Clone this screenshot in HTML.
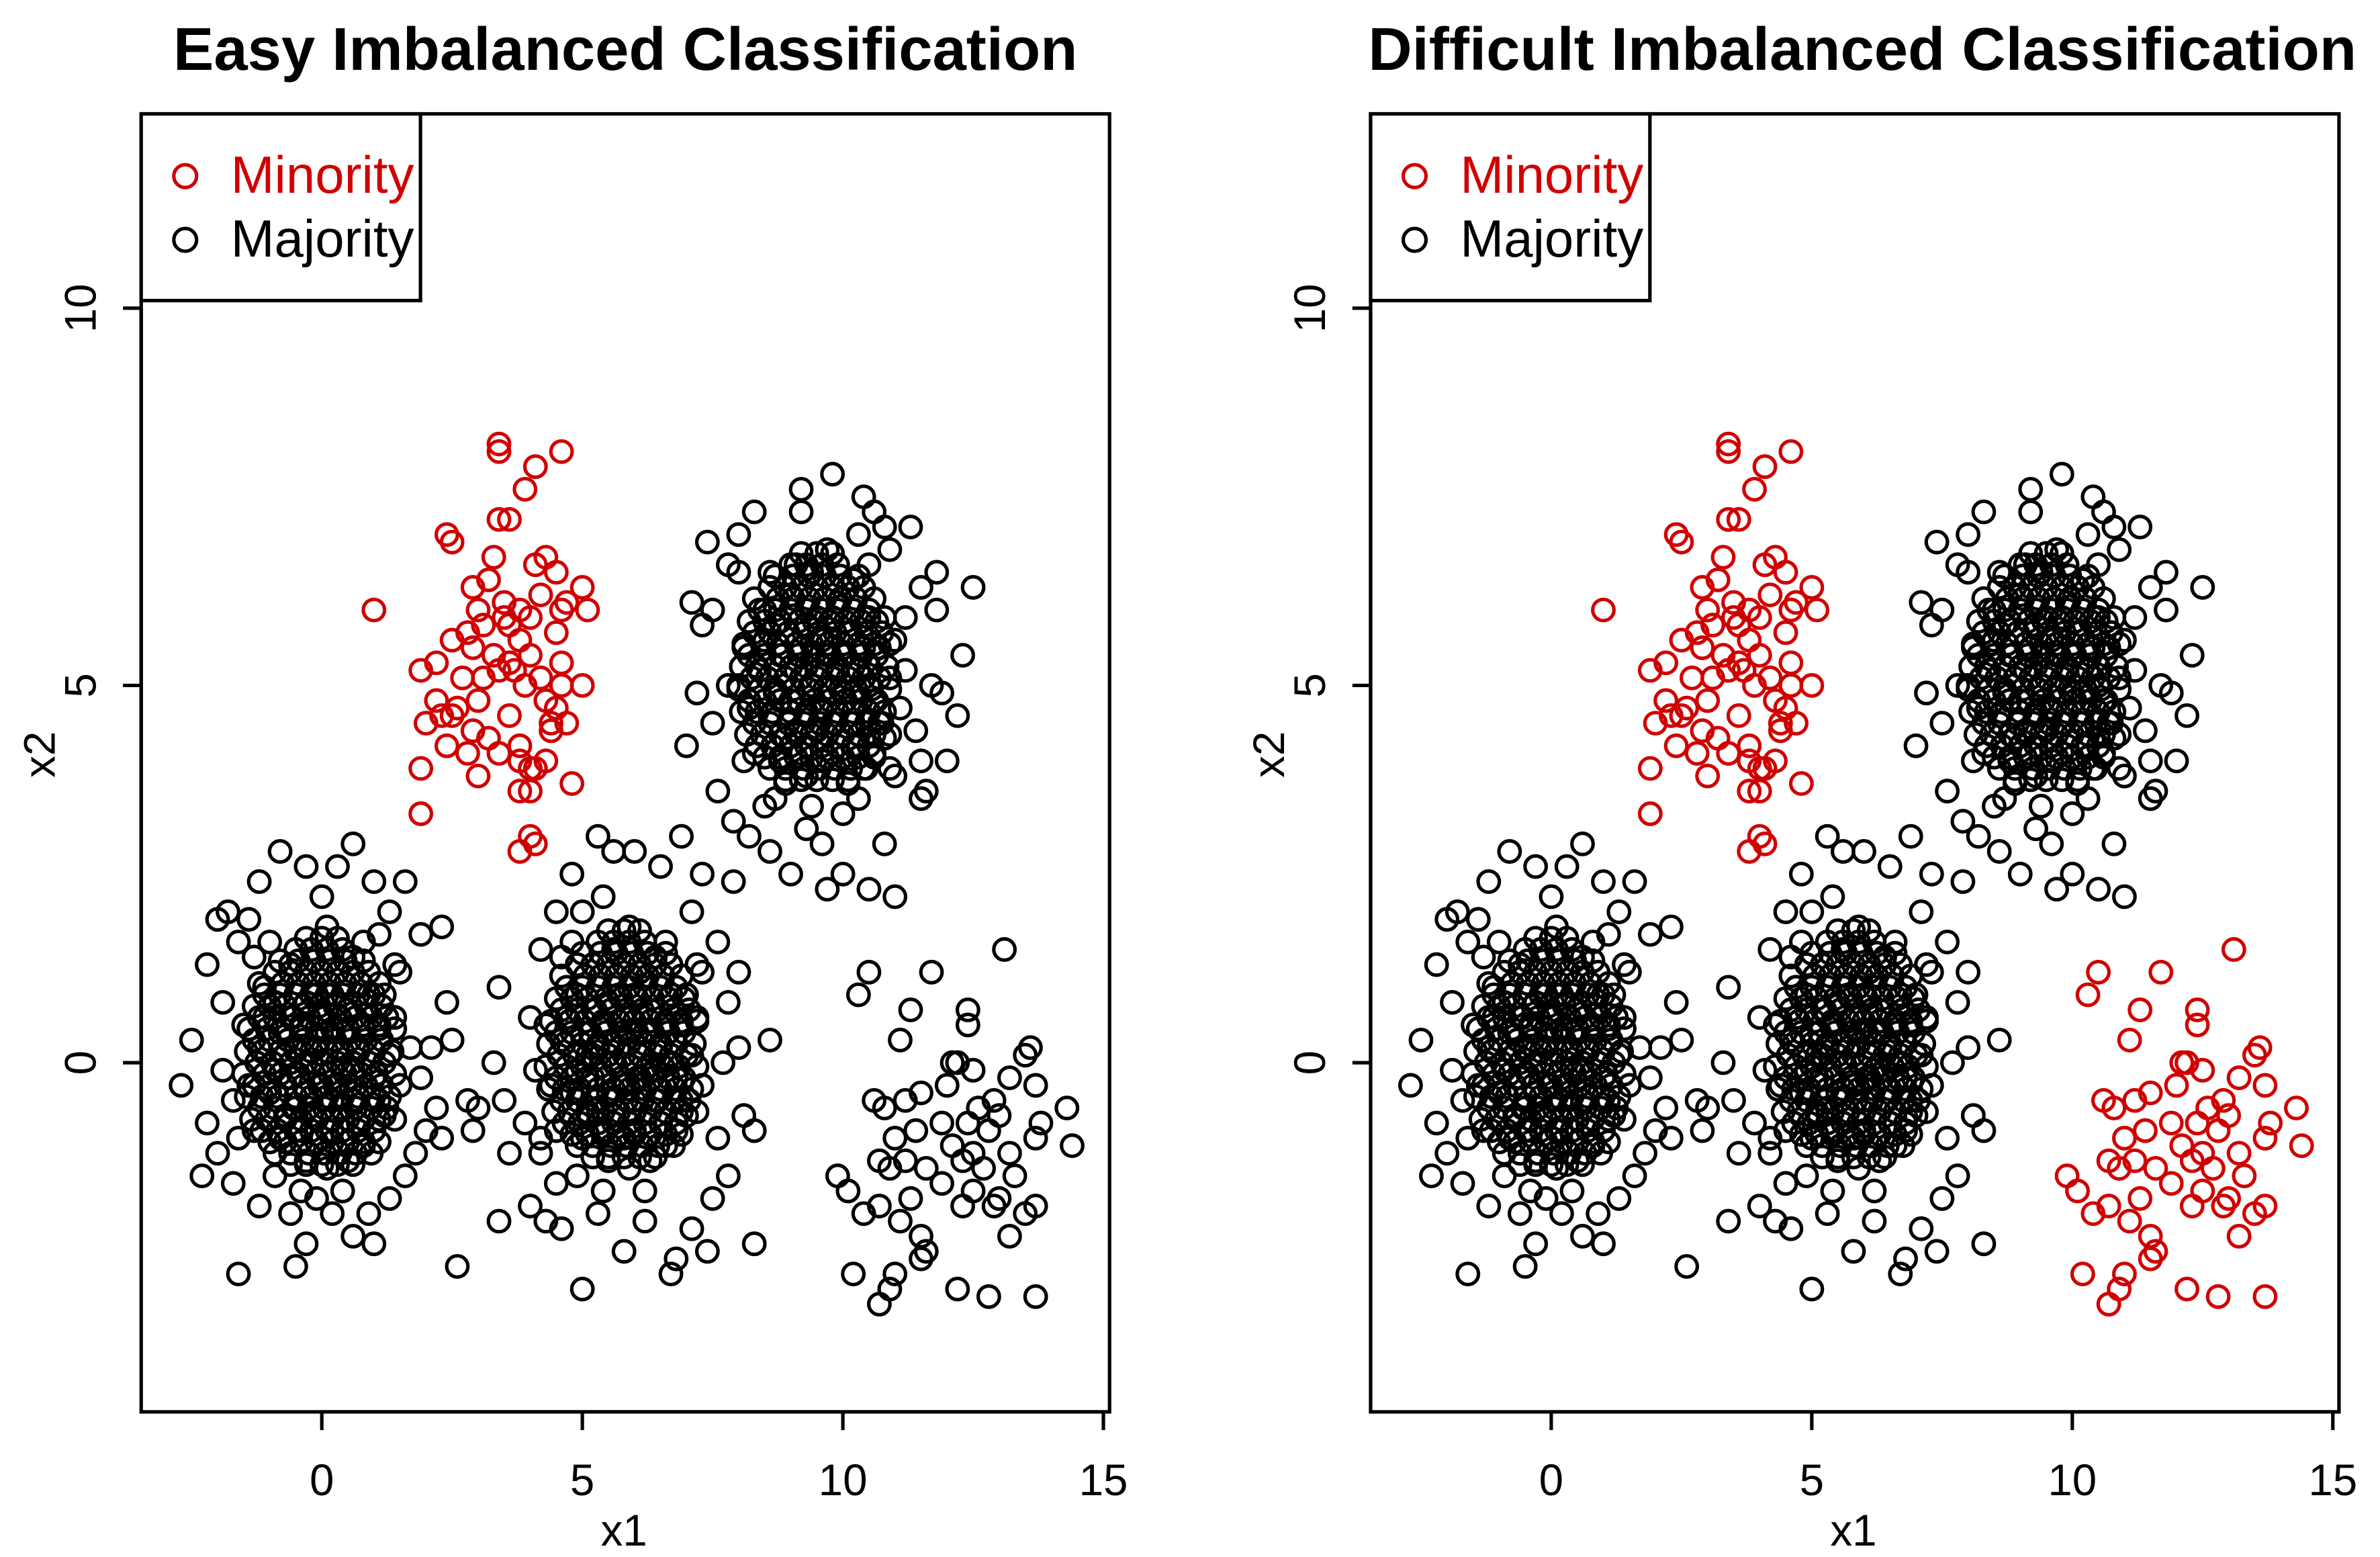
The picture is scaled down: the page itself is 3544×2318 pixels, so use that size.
<!DOCTYPE html>
<html><head><meta charset="utf-8"><style>
html,body{margin:0;padding:0;background:#fff;}
svg{display:block;font-family:"Liberation Sans",Arial,sans-serif;}
</style></head><body>
<svg id="chart" width="3544" height="2318" viewBox="0 0 1568 1025.6" xmlns="http://www.w3.org/2000/svg"></svg>
<script>
const xTicks=[0,5,10,15];
const yTicks=[0,5,10];
const titles=["Easy Imbalanced Classification","Difficult Imbalanced Classification"];
const minorityPts=[[3.4,8.2],[3.4,8.1],[4.1,7.9],[4.6,8.1],[3.9,7.6],[3.6,7.2],[3.4,7.2],[2.4,7.0],[2.5,6.9],[3.3,6.7],[4.3,6.7],[4.1,6.6],[4.5,6.5],[2.9,6.3],[3.2,6.4],[5.0,6.3],[4.7,6.1],[1.0,6.0],[3.0,6.0],[3.5,6.1],[3.8,6.0],[4.0,5.9],[4.6,6.0],[5.1,6.0],[2.8,5.7],[3.1,5.8],[3.6,5.8],[3.8,5.6],[4.5,5.7],[2.5,5.6],[2.9,5.5],[3.3,5.4],[3.6,5.3],[4.0,5.4],[3.4,5.2],[3.7,5.2],[4.6,5.3],[1.9,5.2],[2.2,5.3],[2.7,5.1],[4.2,5.1],[4.6,5.0],[5.0,5.0],[2.2,4.8],[2.6,4.7],[3.0,4.8],[4.3,4.8],[4.5,4.7],[2.3,4.6],[2.5,4.6],[3.6,4.6],[4.4,4.5],[4.7,4.5],[2.0,4.5],[2.9,4.4],[4.4,4.4],[3.2,4.3],[3.8,4.2],[2.4,4.2],[2.8,4.1],[3.4,4.1],[4.3,4.0],[4.0,3.9],[4.1,3.9],[3.8,4.0],[1.9,3.9],[3.0,3.8],[4.8,3.7],[3.8,3.6],[4.0,3.6],[1.9,3.3],[3.8,2.8],[4.1,2.9],[4.0,3.0],[3.5,5.9],[3.9,5.0],[3.1,5.1],[4.2,6.2]];
const sparsePts=[[13.1,1.5],[10.5,1.2],[11.7,1.2],[10.3,0.9],[11.3,0.7],[12.4,0.7],[12.4,0.5],[13.6,0.2],[13.5,0.1],[11.1,0.3],[12.1,0.0],[12.2,0.0],[12.5,-0.1],[13.2,-0.2],[13.7,-0.3],[12.0,-0.3],[11.5,-0.4],[12.9,-0.5],[14.3,-0.6],[10.6,-0.5],[10.8,-0.6],[11.2,-0.5],[12.6,-0.6],[13.0,-0.7],[11.9,-0.8],[12.4,-0.8],[13.8,-0.8],[11.4,-0.9],[12.8,-0.9],[13.7,-1.0],[11.0,-1.0],[12.1,-1.1],[12.5,-1.2],[13.2,-1.2],[14.4,-1.1],[10.7,-1.3],[10.9,-1.4],[11.2,-1.3],[11.6,-1.4],[12.3,-1.3],[12.7,-1.4],[13.3,-1.5],[9.9,-1.5],[11.9,-1.6],[12.5,-1.7],[13.0,-1.8],[10.1,-1.7],[10.7,-1.9],[11.3,-1.8],[12.3,-1.9],[12.9,-1.9],[13.7,-1.9],[10.4,-2.0],[11.1,-2.1],[13.5,-2.0],[11.5,-2.3],[13.2,-2.3],[11.6,-2.5],[11.5,-2.6],[11.0,-2.8],[10.9,-3.0],[12.2,-3.0],[12.8,-3.1],[13.7,-3.1],[10.7,-3.2],[10.2,-2.8]];
const clusterA=[[-1.2,0.2],[-1.0,-0.4],[-0.9,0.8],[-0.8,-1.0],[-0.7,0.1],[-0.6,1.3],[-0.5,-0.6],[-0.4,0.5],[-0.3,-1.3],[-0.2,0.0],[-0.1,0.9],[0.0,-0.3],[0.1,0.4],[0.2,-0.9],[0.3,1.2],[0.4,-0.1],[0.5,0.7],[0.6,-0.5],[0.7,0.2],[0.8,-1.1],[0.9,0.9],[1.0,-0.2],[1.1,0.5],[1.2,-0.7],[1.3,0.1],[-1.3,-0.9],[-1.1,1.0],[-0.8,0.4],[-0.6,-0.2],[-0.4,-0.9],[-0.2,1.5],[0.0,0.6],[0.2,-0.5],[0.3,0.2],[0.5,-1.3],[0.6,1.4],[0.8,0.5],[1.0,-0.9],[1.2,0.9],[-1.5,0.5],[-1.4,-0.3],[-0.9,-1.5],[-0.3,-0.4],[0.1,1.8],[0.4,-1.7],[0.7,-0.8],[1.5,-0.3],[1.4,0.6],[-0.5,0.2],[0.0,-1.0],[0.2,0.9],[-0.7,-0.7],[0.9,0.0],[-0.1,0.2],[0.4,0.4],[-0.3,0.8],[0.6,-0.1],[-0.9,-0.1],[1.1,-0.5],[-1.1,0.6],[-1.3,1.4],[-1.6,-1.0],[-0.2,-0.7],[0.1,-1.4],[1.4,1.3],[-0.6,0.6],[0.3,-0.3],[-1.0,1.6],[0.8,1.6],[-0.4,-1.7],[-2.0,1.9],[-1.8,2.0],[-2.2,1.3],[-2.5,0.3],[-2.7,-0.3],[-2.2,-0.8],[-2.3,-1.5],[-2.0,-1.2],[-1.7,-1.6],[-1.6,-2.8],[-1.2,-1.9],[-0.6,-2.0],[-0.5,-2.7],[-0.3,-2.4],[0.2,-2.0],[0.6,-2.3],[0.9,-2.0],[1.0,-2.4],[1.3,-1.8],[1.6,-1.5],[1.8,-1.2],[2.0,-0.9],[2.2,-0.6],[2.3,-1.0],[2.1,0.2],[2.4,0.8],[1.9,1.7],[2.3,1.8],[1.6,2.4],[1.0,2.4],[0.6,2.9],[0.3,2.6],[-0.3,2.6],[-0.8,2.8],[-1.2,2.4],[-1.6,1.6],[-1.9,0.8],[1.5,1.2],[1.7,0.2],[-1.7,-0.5],[-1.4,1.9],[0.0,2.2],[1.9,-0.2],[-0.1,-1.8],[2.6,-2.7],[2.5,0.3],[2.8,-0.5],[1.3,2.0],[-1.9,-0.1],[1.1,1.7]];
const clusterB=[[4.6,0.3],[4.8,-0.4],[4.9,0.9],[5.0,-1.0],[5.1,0.1],[5.2,1.3],[5.3,-0.6],[5.4,0.5],[5.5,-1.3],[5.6,0.0],[5.7,0.9],[5.8,-0.3],[5.9,0.4],[6.0,-0.9],[6.1,1.2],[6.2,-0.1],[6.3,0.7],[6.4,-0.5],[6.5,0.2],[6.6,-1.1],[6.7,0.9],[6.8,-0.2],[6.9,0.5],[7.0,-0.7],[7.1,0.1],[4.5,-0.9],[4.7,1.0],[5.0,0.4],[5.2,-0.2],[5.4,-0.9],[5.6,1.5],[5.8,0.6],[6.0,-0.5],[6.1,0.2],[6.3,-1.3],[6.4,1.4],[6.6,0.5],[6.8,-0.9],[7.0,0.9],[4.3,0.5],[4.4,-0.3],[4.9,-1.5],[5.5,-0.4],[5.9,1.8],[6.2,-1.7],[6.5,-0.8],[7.3,-0.3],[7.2,0.6],[5.3,0.2],[5.8,-1.0],[6.0,0.9],[5.1,-0.7],[6.7,0.0],[5.7,0.2],[6.2,0.4],[5.5,0.8],[6.4,-0.1],[4.9,-0.1],[6.9,-0.5],[4.7,0.6],[4.6,1.4],[4.2,-1.0],[5.6,-0.7],[5.9,-1.4],[7.2,1.3],[5.2,0.7],[6.1,-0.2],[4.8,1.6],[6.6,1.6],[5.4,-1.7],[3.4,1.0],[3.5,-0.5],[3.3,0.0],[3.6,-1.2],[3.4,-2.1],[4.0,-1.9],[4.3,-2.1],[4.6,-2.2],[5.0,-3.0],[5.3,-2.0],[5.8,-2.5],[6.2,-2.1],[6.7,-2.8],[6.8,-2.6],[7.1,-2.2],[7.5,-1.8],[7.8,-1.5],[8.1,-0.7],[8.0,0.2],[7.8,0.8],[7.6,1.6],[7.1,2.0],[6.5,2.6],[6.0,2.8],[5.4,2.2],[5.0,2.0],[4.5,2.0],[4.2,1.5],[4.0,0.6],[3.9,-0.8],[4.2,-1.2],[7.6,-1.0],[8.3,-0.9],[8.6,0.3],[8.0,1.2],[7.9,2.4],[6.9,3.0],[7.3,2.5],[5.3,3.0],[5.6,2.8],[3.0,-0.6],[2.9,-0.9],[4.8,2.5],[4.5,-1.6],[7.4,-2.5],[8.3,-2.4],[4.1,-0.1],[7.3,1.2],[7.7,0.0]];
const clusterC=[[8.4,5.2],[8.6,4.6],[8.7,5.8],[8.8,4.0],[8.9,5.1],[9.0,6.2],[9.1,4.4],[9.2,5.5],[9.3,3.8],[9.4,5.0],[9.5,5.9],[9.6,4.7],[9.7,5.4],[9.8,4.1],[9.9,6.1],[10.0,4.9],[10.1,5.7],[10.2,4.5],[10.3,5.2],[10.4,3.9],[10.5,5.9],[10.6,4.8],[10.7,5.5],[10.8,4.3],[10.9,5.1],[8.3,4.1],[8.5,6.0],[8.8,5.4],[9.0,4.8],[9.2,4.1],[9.4,6.5],[9.6,5.6],[9.8,4.5],[9.9,5.2],[10.1,3.7],[10.2,6.4],[10.4,5.5],[10.6,4.1],[10.8,5.9],[8.1,5.5],[8.2,4.7],[8.7,3.5],[9.3,4.6],[9.7,6.8],[10.0,3.3],[10.3,4.2],[11.1,4.7],[11.0,5.6],[9.1,5.2],[9.6,4.0],[9.8,5.9],[8.9,4.3],[10.5,5.0],[9.5,5.2],[10.0,5.4],[9.3,5.8],[10.2,4.9],[8.7,4.9],[10.7,4.5],[8.5,5.6],[9.1,6.6],[10.5,6.6],[9.5,4.4],[8.9,3.7],[10.9,3.9],[9.4,3.4],[10.3,3.5],[8.6,6.5],[11.2,5.2],[8.0,5.0],[7.4,6.9],[7.5,6.0],[7.3,5.8],[7.2,4.9],[7.5,4.5],[7.0,4.2],[7.6,3.6],[8.2,3.0],[8.6,2.8],[9.0,2.5],[9.6,2.9],[10.0,2.5],[10.5,2.3],[11.0,2.2],[10.8,2.9],[11.5,3.5],[11.6,3.6],[11.5,4.0],[12.2,4.6],[12.3,5.4],[11.8,6.0],[11.5,6.3],[11.8,6.5],[11.3,7.1],[10.8,7.1],[10.4,7.5],[9.8,7.8],[9.2,7.6],[9.2,7.3],[8.3,7.3],[8.0,7.0],[7.8,6.6],[11.4,4.4],[11.0,3.8],[12.0,4.0],[8.1,4.0],[7.8,5.0],[11.7,5.0],[9.3,3.1],[10.3,7.0],[10.9,6.8],[12.5,6.3],[7.1,6.1],[11.2,5.9],[8.5,3.4],[9.7,2.3],[11.9,4.9],[7.9,3.2],[8.0,6.5],[10.6,7.3]];
// dense core points, grouped by row (y value, then x values)
const coreARowY=[-1.2,-0.9,-0.6,-0.3,0.0,0.3,0.6,0.9,1.2,1.5];
const coreARowX=[[-0.9,-0.6,-0.25,0.05,0.35,0.65,0.95],[-1.15,-0.85,-0.5,-0.2,0.1,0.4,0.7,1.0],[-1.2,-0.9,-0.55,-0.25,0.05,0.35,0.65,0.95,1.25],[-1.3,-1.0,-0.7,-0.35,-0.05,0.25,0.55,0.85,1.15],[-1.25,-0.95,-0.6,-0.3,0.0,0.3,0.6,0.9,1.2],[-1.3,-1.0,-0.65,-0.35,-0.05,0.25,0.55,0.85,1.15],[-1.2,-0.9,-0.55,-0.25,0.05,0.35,0.65,0.95,1.25],[-1.1,-0.8,-0.5,-0.2,0.1,0.4,0.7,1.0],[-0.9,-0.6,-0.3,0.0,0.3,0.6,0.9],[-0.5,-0.2,0.1,0.4]];
const coreA2RowY=[-1.35,-1.05,-0.75,-0.45,-0.15,0.15,0.45,0.75,1.05,1.35,1.65];
const coreA2RowX=[[-0.6,-0.3,0.0,0.3,0.6],[-1.0,-0.7,-0.4,-0.1,0.2,0.5,0.8,1.1],[-1.35,-1.05,-0.7,-0.4,-0.1,0.2,0.5,0.8,1.1,1.4],[-1.45,-1.15,-0.85,-0.5,-0.2,0.1,0.4,0.7,1.0,1.3],[-1.5,-1.1,-0.8,-0.45,-0.15,0.15,0.45,0.75,1.05,1.4],[-1.45,-1.15,-0.8,-0.5,-0.2,0.1,0.4,0.7,1.0,1.35],[-1.4,-1.05,-0.75,-0.4,-0.1,0.2,0.5,0.8,1.1,1.4],[-1.3,-1.0,-0.7,-0.35,-0.05,0.25,0.55,0.85,1.15],[-1.2,-0.75,-0.45,-0.15,0.15,0.45,0.75,1.1],[-0.8,-0.45,-0.15,0.15,0.45,0.8],[-0.3,0.0,0.3]];
const coreBRowY=[-1.1,-0.8,-0.5,-0.2,0.1,0.4,0.7,1.0,1.3,1.6];
const coreBRowX=[[4.9,5.2,5.55,5.85,6.15,6.45,6.75],[4.65,4.95,5.3,5.6,5.9,6.2,6.5,6.8],[4.6,4.9,5.25,5.55,5.85,6.15,6.45,6.75,7.05],[4.5,4.8,5.1,5.45,5.75,6.05,6.35,6.65,6.95],[4.55,4.85,5.2,5.5,5.8,6.1,6.4,6.7,7.0],[4.5,4.8,5.15,5.45,5.75,6.05,6.35,6.65,6.95],[4.6,4.9,5.25,5.55,5.85,6.15,6.45,6.75,7.05],[4.7,5.0,5.3,5.6,5.9,6.2,6.5,6.8],[4.9,5.2,5.5,5.8,6.1,6.4,6.7],[5.3,5.6,5.9,6.2]];
const coreB2RowY=[-1.25,-0.95,-0.65,-0.35,-0.05,0.25,0.55,0.85,1.15,1.45,1.75];
const coreB2RowX=[[5.2,5.5,5.8,6.1,6.4],[4.8,5.1,5.4,5.7,6.0,6.3,6.6,6.9],[4.45,4.75,5.1,5.4,5.7,6.0,6.3,6.6,6.9,7.2],[4.35,4.65,4.95,5.3,5.6,5.9,6.2,6.5,6.8,7.1],[4.3,4.7,5.0,5.35,5.65,5.95,6.25,6.55,6.85,7.2],[4.35,4.65,5.0,5.3,5.6,5.9,6.2,6.5,6.8,7.15],[4.4,4.75,5.05,5.4,5.7,6.0,6.3,6.6,6.9,7.2],[4.5,4.8,5.1,5.45,5.75,6.05,6.35,6.65,6.95],[4.6,5.05,5.35,5.65,5.95,6.25,6.55,6.9],[5.0,5.35,5.65,5.95,6.25,6.6],[5.5,5.8,6.1]];
const coreCRowY=[3.9,4.2,4.5,4.8,5.1,5.4,5.7,6.0,6.3,6.6];
const coreCRowX=[[8.6,8.9,9.25,9.55,9.85,10.15,10.45],[8.35,8.65,9.0,9.3,9.6,9.9,10.2,10.5],[8.3,8.6,8.95,9.25,9.55,9.85,10.15,10.45,10.75],[8.2,8.5,8.8,9.15,9.45,9.75,10.05,10.35,10.65],[8.25,8.55,8.9,9.2,9.5,9.8,10.1,10.4,10.7],[8.2,8.5,8.85,9.15,9.45,9.75,10.05,10.35,10.65],[8.3,8.6,8.95,9.25,9.55,9.85,10.15,10.45,10.75],[8.4,8.7,9.0,9.3,9.6,9.9,10.2,10.5],[8.6,8.9,9.2,9.5,9.8,10.1,10.4],[9.0,9.3,9.6,9.9]];
const coreC2RowY=[3.75,4.05,4.35,4.65,4.95,5.25,5.55,5.85,6.15,6.45,6.75];
const coreC2RowX=[[8.9,9.2,9.5,9.8,10.1],[8.5,8.8,9.1,9.4,9.7,10.0,10.3,10.6],[8.15,8.45,8.8,9.1,9.4,9.7,10.0,10.3,10.6,10.9],[8.05,8.35,8.65,9.0,9.3,9.6,9.9,10.2,10.5,10.8],[8.0,8.4,8.7,9.05,9.35,9.65,9.95,10.25,10.55,10.9],[8.05,8.35,8.7,9.0,9.3,9.6,9.9,10.2,10.5,10.85],[8.1,8.45,8.75,9.1,9.4,9.7,10.0,10.3,10.6,10.9],[8.2,8.5,8.8,9.15,9.45,9.75,10.05,10.35,10.65],[8.3,8.75,9.05,9.35,9.65,9.95,10.25,10.6],[8.7,9.05,9.35,9.65,9.95,10.3],[9.2,9.5,9.8]];

const NS="http://www.w3.org/2000/svg";
const svg=document.getElementById('chart');
function mk(tag,attrs,parent){const e=document.createElementNS(NS,tag);for(const k in attrs)e.setAttribute(k,attrs[k]);(parent||svg).appendChild(e);return e;}
function rowsToPts(ys,xs){const out=[];ys.forEach((y,i)=>xs[i].forEach(x=>out.push([x,y])));return out;}
const cores=[rowsToPts(coreARowY,coreARowX),rowsToPts(coreA2RowY,coreA2RowX),rowsToPts(coreBRowY,coreBRowX),rowsToPts(coreB2RowY,coreB2RowX),rowsToPts(coreCRowY,coreCRowX),rowsToPts(coreC2RowY,coreC2RowX)];
const panels=[{x0:212,box:[93,731]},{x0:1022,box:[903,1541]}];
const XS=34.33, Y0=700, YS=49.7, BT=75, BB=930, SW=2.3;
panels.forEach((p,pi)=>{
  const g=mk('g',{});
  
  
  const sx=v=>p.x0+v*XS, sy=v=>Y0-v*YS;
  const t=mk('text',{x:(p.box[0]+p.box[1])/2+(pi===0?0:5),y:46,'text-anchor':'middle','font-weight':'bold','font-size':40},g);
  t.textContent=titles[pi];
  
  
  const drawPts=(arr,color,name)=>{arr.forEach(d=>{const c=mk('circle',{cx:sx(d[0]),cy:sy(d[1]),r:7,fill:'none',stroke:color,'stroke-width':SW},g);
    
    });};
  drawPts(clusterA,'#000','majority-point');
  drawPts(clusterB,'#000','majority-point');
  drawPts(clusterC,'#000','majority-point');
  cores.forEach(c=>drawPts(c,'#000','majority-point'));
  drawPts(sparsePts,pi===0?'#000':'#d00000',pi===0?'majority-point':'minority-point');
  drawPts(minorityPts,'#d00000','minority-point');
  const b=mk('rect',{x:p.box[0],y:BT,width:p.box[1]-p.box[0],height:BB-BT,fill:'none',stroke:'#000','stroke-width':SW},g);
  
  
  const xa=mk('line',{x1:sx(xTicks[0]),x2:sx(xTicks[xTicks.length-1]),y1:BB,y2:BB,stroke:'#000','stroke-width':SW},g);
  
  
  xTicks.forEach(v=>{mk('line',{x1:sx(v),x2:sx(v),y1:BB,y2:BB+12,stroke:'#000','stroke-width':SW},g);
    const tl=mk('text',{x:sx(v),y:985,'text-anchor':'middle','font-size':29},g);tl.textContent=v;
    
    });
  const xl=mk('text',{x:sx(5.8),y:1018,'text-anchor':'middle','font-size':29},g);xl.textContent='x1';
  
  
  const ya=mk('line',{x1:p.box[0],x2:p.box[0],y1:sy(yTicks[0]),y2:sy(yTicks[yTicks.length-1]),stroke:'#000','stroke-width':SW},g);
  
  
  yTicks.forEach(v=>{mk('line',{x1:p.box[0]-12,x2:p.box[0],y1:sy(v),y2:sy(v),stroke:'#000','stroke-width':SW},g);
    const yx=p.box[0]-30, yy=sy(v);
    const tl=mk('text',{x:yx,y:yy,'text-anchor':'middle','font-size':29,transform:`rotate(-90 ${yx} ${yy})`},g);tl.textContent=v;
    
    });
  const lx=p.box[0]-57, ly=497;
  const yl=mk('text',{x:lx,y:ly,'text-anchor':'middle','font-size':29,transform:`rotate(-90 ${lx} ${ly})`},g);yl.textContent='x2';
  
  
  const lg=mk('g',{},g);
  
  
  mk('rect',{x:p.box[0],y:BT,width:184,height:123,fill:'#fff',stroke:'#000','stroke-width':SW},lg);
  [['Minority','#d00000',116],['Majority','#000',158]].forEach(e=>{
    const c=mk('circle',{cx:p.box[0]+29,cy:e[2],r:7.5,fill:'none',stroke:e[1],'stroke-width':SW},lg);
    
    
    const tx=mk('text',{x:p.box[0]+59,y:e[2]+11,'font-size':34.5,fill:e[1]},lg);tx.textContent=e[0];
    
    
  });
});
</script>
</body></html>
